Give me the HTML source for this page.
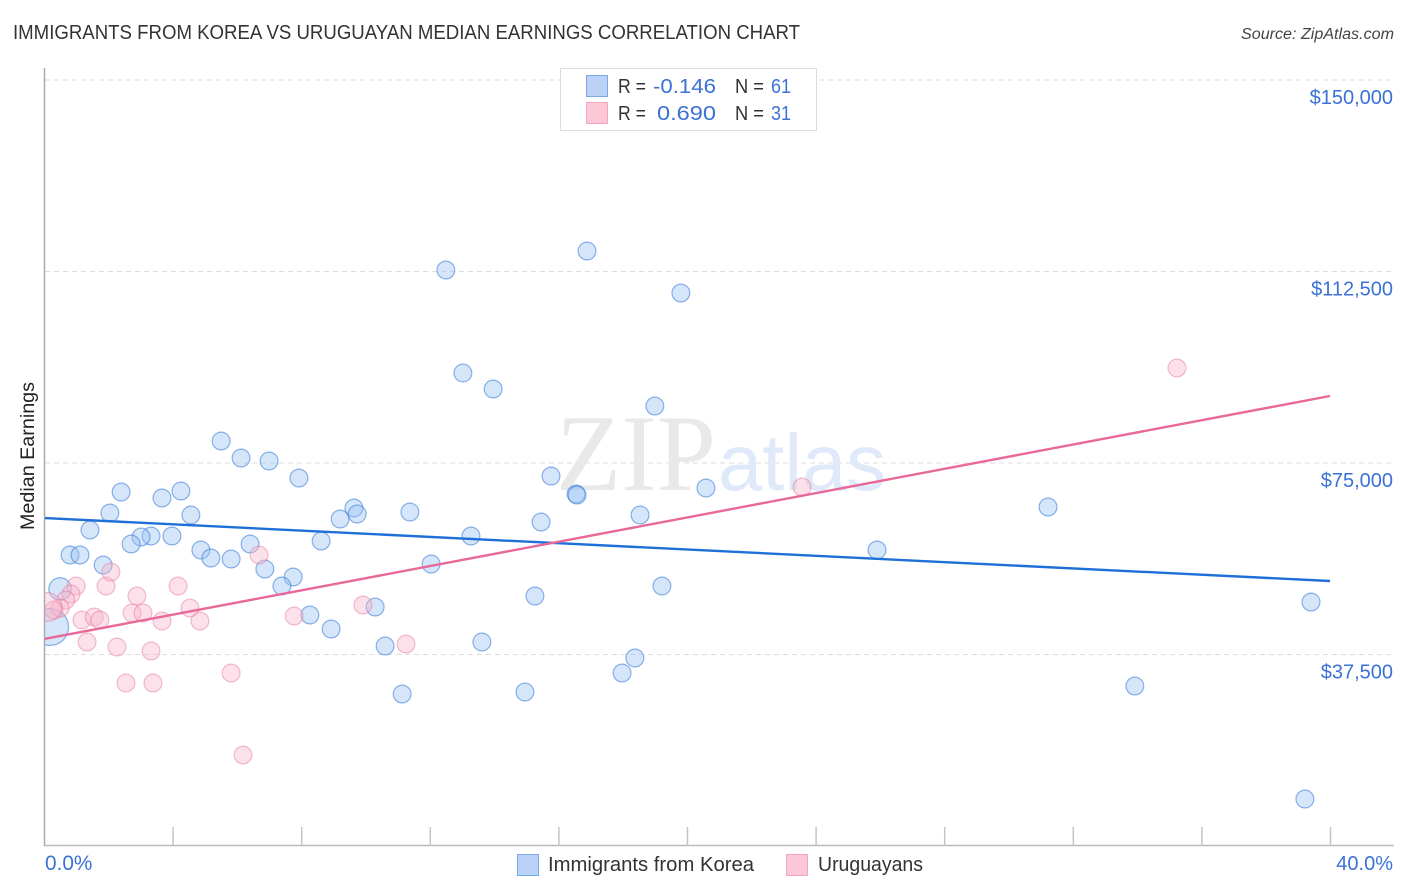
<!DOCTYPE html>
<html lang="en">
<head>
<meta charset="utf-8">
<title>Immigrants from Korea vs Uruguayan Median Earnings Correlation Chart</title>
<style>
html,body{margin:0;padding:0;background:#fff;width:1406px;height:892px;overflow:hidden}
svg{display:block;font-family:"Liberation Sans",sans-serif}
</style>
</head>
<body>
<svg id="chart" width="1406" height="892" viewBox="0 0 1406 892" xmlns="http://www.w3.org/2000/svg">
  <defs><clipPath id="plot-clip"><rect x="45" y="60" width="1349" height="786"/></clipPath></defs>
  <rect width="1406" height="892" fill="#fff"/>
  <text x="13" y="39" font-size="20" fill="#333" textLength="787" lengthAdjust="spacingAndGlyphs">IMMIGRANTS FROM KOREA VS URUGUAYAN MEDIAN EARNINGS CORRELATION CHART</text>
  <text x="1241" y="39" font-size="15.5" font-style="italic" fill="#444" textLength="153" lengthAdjust="spacingAndGlyphs">Source: ZipAtlas.com</text>
  <g id="grid"></g>
  <g>
    <text x="556" y="490" font-family="'Liberation Serif',serif" font-size="109" fill="#e9e9e9" textLength="160" lengthAdjust="spacingAndGlyphs">ZIP</text>
    <text x="718" y="490" font-size="80" fill="#dfe9f9" textLength="168" lengthAdjust="spacingAndGlyphs">atlas</text>
  </g>
  <g id="axes"></g>
  <g id="marks" clip-path="url(#plot-clip)"></g>
  <g id="trends" clip-path="url(#plot-clip)"></g>
  <g id="labels"></g>
  <text transform="translate(34 456) rotate(-90)" text-anchor="middle" font-size="19" fill="#222" textLength="148" lengthAdjust="spacingAndGlyphs">Median Earnings</text>

  <g>
    <rect x="560.5" y="68.5" width="256" height="62" fill="#fff" stroke="#ddd"/>
    <rect x="586.5" y="75.5" width="21" height="21" fill="#b9d2f6" stroke="#7aa7e6"/>
    <rect x="586.5" y="102.5" width="21" height="21" fill="#fcc8d8" stroke="#f3a5be"/>
    <text x="618" y="93" font-size="20" fill="#333" textLength="28" lengthAdjust="spacingAndGlyphs">R =</text>
    <text x="653" y="93" font-size="20.5" fill="#3a72d6" textLength="63" lengthAdjust="spacingAndGlyphs">-0.146</text>
    <text x="735" y="93" font-size="20" fill="#333" textLength="29" lengthAdjust="spacingAndGlyphs">N =</text>
    <text x="771" y="93" font-size="20" fill="#3a72d6" textLength="20" lengthAdjust="spacingAndGlyphs">61</text>
    <text x="618" y="120" font-size="20" fill="#333" textLength="28" lengthAdjust="spacingAndGlyphs">R =</text>
    <text x="657" y="120" font-size="20.5" fill="#3a72d6" textLength="59" lengthAdjust="spacingAndGlyphs">0.690</text>
    <text x="735" y="120" font-size="20" fill="#333" textLength="29" lengthAdjust="spacingAndGlyphs">N =</text>
    <text x="771" y="120" font-size="20" fill="#3a72d6" textLength="20" lengthAdjust="spacingAndGlyphs">31</text>
  </g>

  <g>
    <rect x="517.5" y="854.5" width="21" height="21" fill="#b9d2f6" stroke="#7aa7e6"/>
    <text x="548" y="871" font-size="20" fill="#333" textLength="206" lengthAdjust="spacingAndGlyphs">Immigrants from Korea</text>
    <rect x="786.5" y="854.5" width="21" height="21" fill="#fcc8d8" stroke="#f3a5be"/>
    <text x="818" y="871" font-size="20" fill="#333" textLength="105" lengthAdjust="spacingAndGlyphs">Uruguayans</text>
  </g>
</svg>
<script>
const koreaPct = [12.50,16.89,19.81,13.03,13.97,19.00,5.51,6.13,7.00,7.93,2.40,4.26,3.67,2.05,4.57,1.43,3.98,3.33,3.02,2.71,0.81,1.12,1.84,4.88,5.19,5.82,6.41,6.87,7.75,7.40,8.27,8.93,8.62,9.21,9.64,9.74,11.38,13.28,12.04,15.46,15.77,16.55,16.58,18.54,20.59,25.91,31.23,19.22,15.27,10.30,10.61,13.62,18.38,17.98,11.14,14.96,33.93,39.41,39.22,0.50,0.19];
const koreaEarnings = [112792,116513,108288,92623,89490,86161,79307,75978,75391,72062,69320,69516,68145,65208,64816,61879,60704,60704,60508,59138,56984,56984,55025,57963,56396,56200,59138,54242,52676,50913,45234,42493,59725,64033,66187,65012,65404,60704,55221,63446,72453,68929,68733,64816,70104,57963,66383,50913,48955,46801,39164,39947,36814,33877,29765,30156,31331,47780,9204,50326,42885];
const koreaWeight = [1,1,1,1,1,1,1,1,1,1,1,1,1,1,1,1,1,1,1,1,1,1,1,1,1,1,1,1,1,1,1,1,1,1,1,1,1,1,1,1,1,1,1,1,1,1,1,1,1,1,1,1,1,1,1,1,1,1,1,1.6,4.3];
const uruguayPct = [1.00,0.84,0.68,0.50,0.31,0.10,1.18,1.56,1.74,1.34,2.27,2.55,3.39,3.33,2.89,2.74,3.08,3.67,4.17,4.54,4.85,1.93,2.08,5.82,6.69,7.78,6.19,9.92,11.26,23.58,35.24];
const uruguayEarnings = [50913,49347,48172,46605,46214,46800,44255,44843,44255,39947,38968,31919,31919,38185,48955,45626,45626,44060,50913,46605,44060,50913,53655,33877,56984,45039,17820,47193,39556,70300,93602];
const uruguayWeight = [1,1,1,1,1,2.6,1,1,1,1,1,1,1,1,1,1,1,1,1,1,1,1,1,1,1,1,1,1,1,1,1];
const trendPct = [0,40];
const koreaTrend = [64229,51892];
const uruguayTrend = [40535,88119];
const yTicks = [150000,112500,75000,37500];
const yTickLabels = ["$150,000","$112,500","$75,000","$37,500"];
const xTicks = [4,8,12,16,20,24,28,32,36,40];
const xEndTicks = [0,40];
const xEndLabels = ["0.0%","40.0%"];

const NS = "http://www.w3.org/2000/svg";
const xScale = p => 44 + p * 32.15;
const yScale = v => 846 - v * 766 / 150000;
const radius = w => 8.9 * Math.sqrt(w);
function make(tag, attrs, parent) {
  const el = document.createElementNS(NS, tag);
  Object.keys(attrs).forEach(k => el.setAttribute(k, attrs[k]));
  parent.appendChild(el);
  return el;
}
const grid = document.getElementById("grid");
const axes = document.getElementById("axes");
const marks = document.getElementById("marks");
const trends = document.getElementById("trends");
const labels = document.getElementById("labels");

yTicks.forEach((v, i) => {
  const line = make("line", {x1: 45, x2: 1394, y1: yScale(v), y2: yScale(v), stroke: "#ddd", "stroke-width": 1, "stroke-dasharray": "5 4"}, grid);
  
  
  const t = make("text", {x: 1393, y: yScale(v) + 24, "text-anchor": "end", "font-size": 20, fill: "#3a72d6"}, labels);
  t.textContent = yTickLabels[i];
  
  
});

const yAxis = make("line", {x1: 44.5, x2: 44.5, y1: 68, y2: 846, stroke: "#aaa", "stroke-width": 1.5}, axes);


const xAxis = make("line", {x1: 44, x2: 1394, y1: 845.5, y2: 845.5, stroke: "#bbb", "stroke-width": 1.5}, axes);


xTicks.forEach(p => {
  const tick = make("line", {x1: xScale(p) + 0.5, x2: xScale(p) + 0.5, y1: 827, y2: 846, stroke: "#c4c4c4", "stroke-width": 1.5}, axes);
  
  
});
xEndTicks.forEach((p, i) => {
  const t = make("text", {x: i === 0 ? xScale(p) + 1 : xScale(p) + 63, y: 870, "text-anchor": i === 0 ? "start" : "end", "font-size": i === 0 ? 20.8 : 20, fill: "#3a72d6"}, labels);
  t.textContent = xEndLabels[i];
  
  
});

koreaPct.forEach((p, i) => {
  const c = make("circle", {cx: xScale(p), cy: yScale(koreaEarnings[i]), r: radius(koreaWeight[i]), fill: "rgba(150,192,243,0.4)", stroke: "rgba(50,118,214,0.55)", "stroke-width": 1.2}, marks);
  
  
});
uruguayPct.forEach((p, i) => {
  const c = make("circle", {cx: xScale(p), cy: yScale(uruguayEarnings[i]), r: radius(uruguayWeight[i]), fill: "rgba(248,180,203,0.4)", stroke: "rgba(228,110,150,0.45)", "stroke-width": 1.2}, marks);
  
  
});

const koreaLine = make("line", {x1: xScale(trendPct[0]), x2: xScale(trendPct[1]), y1: yScale(koreaTrend[0]), y2: yScale(koreaTrend[1]), stroke: "#1f6fd8", "stroke-width": 2.4}, trends);


const uruguayLine = make("line", {x1: xScale(trendPct[0]), x2: xScale(trendPct[1]), y1: yScale(uruguayTrend[0]), y2: yScale(uruguayTrend[1]), stroke: "#e8689a", "stroke-width": 2.4}, trends);


</script>
</body>
</html>
